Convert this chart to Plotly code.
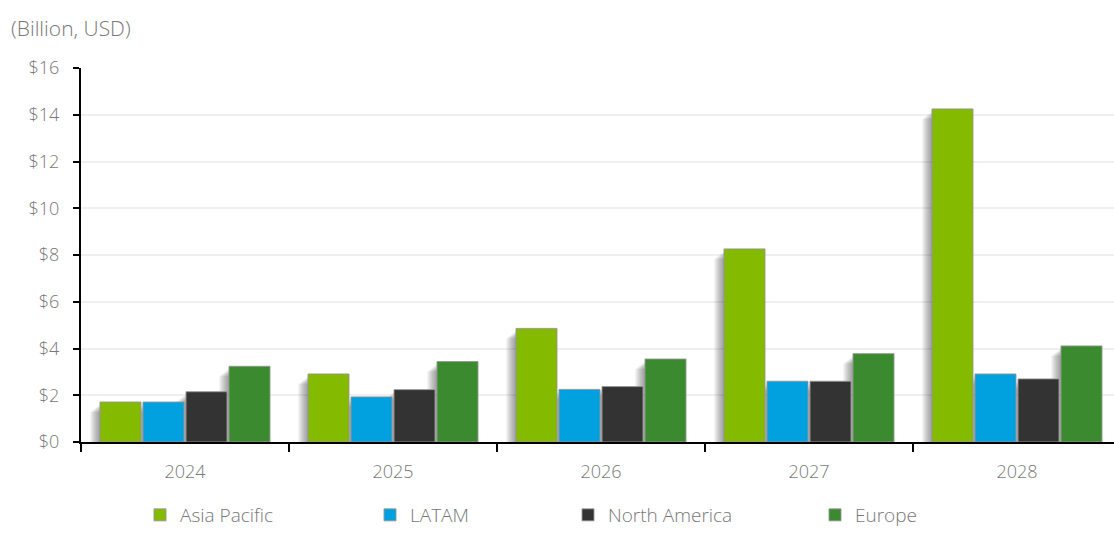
import plotly.graph_objects as go

# Market size by region, billion USD
years = ["2024", "2025", "2026", "2027", "2028"]
asia_pacific = [1.71, 2.91, 4.86, 8.26, 14.25]
latam = [1.71, 1.93, 2.25, 2.60, 2.91]
north_america = [2.15, 2.24, 2.37, 2.60, 2.70]
europe = [3.24, 3.44, 3.55, 3.78, 4.11]

series = [
    ("Asia Pacific", asia_pacific, "#84BA00"),
    ("LATAM", latam, "#00A1DE"),
    ("North America", north_america, "#333333"),
    ("Europe", europe, "#3B8A2F"),
]

W, H = 1114, 534
ML, MR, MT, MB = 81, 0, 68, 92
PW, PH = W - ML - MR, H - MT - MB
cat_px = 208.0  # pixel width of one category
px = 1.0 / cat_px  # one pixel in category units
ypx = 16.0 / PH  # one pixel in value units

pitch = 43 * px
bar_w = 41 * px
start = -2 * pitch + (pitch - bar_w) / 2

fig = go.Figure()

# soft drop shadow behind each bar (layered, fading to the left and top)
for i, (name, vals, color) in enumerate(series):
    off = start + i * pitch
    for k in range(1, 11):
        fig.add_trace(go.Bar(
            x=years, y=[v - (2 + 0.8 * k) * ypx for v in vals],
            offset=off - k * px, width=bar_w,
            marker=dict(color="rgba(0,0,0,0.045)", line=dict(width=0)),
            showlegend=False, hoverinfo="skip",
        ))

# one legend per series so each entry sits at its own position
legend_names = ["legend", "legend2", "legend3", "legend4"]
for i, (name, vals, color) in enumerate(series):
    fig.add_trace(go.Bar(
        x=years, y=vals, name=name,
        offset=start + i * pitch, width=bar_w,
        marker=dict(color=color, line=dict(color="rgba(150,150,150,0.9)", width=1)),
        legend=legend_names[i],
    ))

font = dict(family="Open Sans", color="#787878", size=17, weight=300)
legend_font = dict(family="Open Sans", color="#787878", size=19, weight=300)
text_starts = [180, 410, 608, 855]
legend_cfg = {}
for i, ln in enumerate(legend_names):
    legend_cfg[ln] = dict(
        xref="container", yref="container",
        x=(text_starts[i] - 40) / W, y=0,
        xanchor="left", yanchor="bottom",
        orientation="h", font=legend_font, bgcolor="rgba(0,0,0,0)",
    )

fig.update_layout(
    width=W, height=H,
    margin=dict(l=ML, r=MR, t=MT, b=MB),
    barmode="overlay",
    plot_bgcolor="white", paper_bgcolor="white",
    font=font,
    **legend_cfg,
    annotations=[dict(
        text="(Billion, USD)", xref="paper", yref="paper",
        x=(9 - ML) / PW, y=(H - MB - 28) / PH, xanchor="left", yanchor="middle",
        showarrow=False, font=dict(family="Open Sans", color="#787878", size=21, weight=300),
    )],
)

fig.update_yaxes(
    range=[0, 16], dtick=2, tickprefix="$",
    showgrid=True, gridcolor="#efefef", gridwidth=1.5,
    showline=True, linecolor="black", linewidth=2,
    ticks="outside", ticklen=6, tickwidth=2, tickcolor="black",
    ticklabelstandoff=10, zeroline=False, tickfont=dict(font, size=18),
)
fig.update_xaxes(
    range=[-0.5, -0.5 + PW / cat_px],
    showline=True, linecolor="black", linewidth=2,
    ticks="outside", tickson="boundaries", ticklen=8, tickwidth=2, tickcolor="black",
    ticklabelstandoff=12, showgrid=False, tickfont=dict(font, size=18),
)

fig.write_html("out.html")
